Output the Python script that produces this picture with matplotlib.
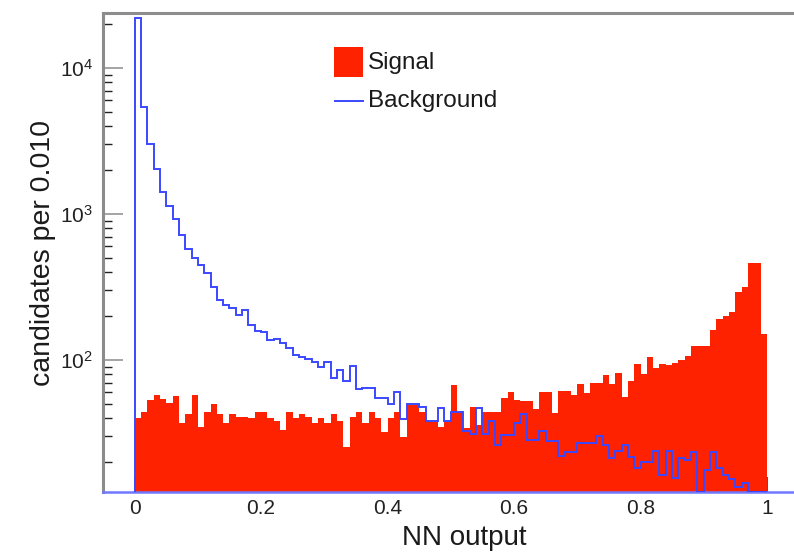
import numpy as np
import matplotlib
matplotlib.use("Agg")
import matplotlib.pyplot as plt
from matplotlib.patches import Rectangle
from matplotlib.lines import Line2D
from matplotlib.ticker import MultipleLocator, FixedLocator, LogLocator, FuncFormatter

plt.rcParams['font.family'] = ['Liberation Sans', 'DejaVu Sans']

# NN output histograms, 100 bins of width 0.010 on [0, 1]
bin_edges = np.linspace(0.0, 1.0, 101)

signal = [
    40, 44, 53, 58, 54, 51, 57, 37, 43, 58,
    35, 44, 50, 43, 37, 43, 41, 41, 40, 44,
    44, 40, 38, 33, 44, 40, 43, 41, 37, 40,
    37, 43, 38, 25.5, 41, 44, 37, 44, 40, 32,
    40, 44, 29.5, 49, 49, 44, 38, 38, 34.5, 37.5,
    67, 44, 34, 48, 36, 44, 44, 44, 55, 60,
    53.5, 52, 52, 46.5, 60, 60, 43.5, 61.5, 61.5, 58,
    69, 59, 70, 70, 79, 68, 82, 56, 72, 94,
    80, 105, 88, 94, 93, 96, 100, 107, 125, 125,
    125, 161, 190, 200, 213, 292, 318, 460, 460, 150,
]

background = [
    21900, 5430, 3010, 2020, 1415, 1135, 925, 715, 573, 497,
    448, 393, 315, 257, 238, 228, 203, 220, 174, 159,
    155, 137, 139, 130, 120, 108, 105, 101, 97, 89,
    97, 75, 85, 72, 91, 63, 64, 64, 55, 55,
    50, 60, 39.5, 50, 50, 48, 38.4, 38.4, 47, 38,
    44, 44, 32.5, 31, 47, 31, 38.5, 26, 30.5, 30.5,
    37, 43, 28.3, 28.3, 32.5, 27.8, 27.8, 22, 23.5, 23.5,
    27.2, 27.2, 27.2, 30.2, 26.2, 21.2, 23.9, 26.2, 21.8, 18.1,
    20.1, 20.1, 23.9, 16.3, 23.9, 15.5, 21.2, 20.5, 23.3, 0,
    17.7, 23.3, 18.1, 16.3, 15.2, 13.4, 14.3, 0, 0, 0,
]

x_ticks = [0, 0.2, 0.4, 0.6, 0.8, 1.0]

ymin, ymax = 12.47, 23810
red = '#ff2200'
blue = '#3a48ff'
frame = '#8c8c8c'

fig = plt.figure(figsize=(7.94, 5.53), dpi=100)
ax = fig.add_axes([103 / 794, 1 - 492 / 553, (798.6 - 103) / 794, (492 - 13) / 553])
ax.set_yscale('log')
ax.set_xlim(-0.05, 1.05)
ax.set_ylim(ymin, ymax)

# empty bins sit on the lower frame, like ROOT draws them
sig = np.clip(signal, ymin, None)
bkg = np.clip(background, ymin, None)

ax.stairs(sig, bin_edges, baseline=ymin, fill=True, color=red, lw=0, zorder=2)
ax.axhline(ymin, color='#6f78ff', lw=1.8, zorder=3, clip_on=False)
ax.stairs(bkg, bin_edges, baseline=ymin, color=blue, lw=1.4, zorder=4)

# frame
for side in ['left', 'top']:
    ax.spines[side].set_color(frame)
    ax.spines[side].set_linewidth(2.2)
ax.spines['bottom'].set_visible(False)
ax.spines['right'].set_visible(False)

ax.xaxis.set_major_locator(FixedLocator(x_ticks))
ax.xaxis.set_minor_locator(MultipleLocator(0.05))
ax.xaxis.set_major_formatter(FuncFormatter(lambda v, p: '%g' % v))
ax.yaxis.set_major_locator(LogLocator(base=10))
ax.yaxis.set_minor_locator(LogLocator(base=10, subs=np.arange(2, 10)))

ax.tick_params(axis='both', which='both', direction='in', top=False, right=False,
               labelsize=15, colors='#222222')
ax.tick_params(axis='x', which='major', length=10.8, width=1.1, pad=5)
ax.tick_params(axis='x', which='minor', length=5.8, width=1.0)
ax.tick_params(axis='y', which='major', length=14.4, width=1.1, pad=7, color=frame)
ax.tick_params(axis='y', which='minor', length=6.8, width=1.0)

ax.set_xlabel('NN output', fontsize=20, color='#1a1a1a')
ax.xaxis.set_label_coords(0.519, -0.068)
ax.set_ylabel('candidates per 0.010', fontsize=20.5, color='#1a1a1a')
ax.yaxis.set_label_coords(-0.067, 0.5)

# legend
fig.add_artist(Rectangle((334 / 794, 1 - 77 / 553), 29 / 794, 30 / 553,
                         transform=fig.transFigure, color=red, lw=0))
fig.add_artist(Line2D([335 / 794, 363 / 794], [1 - 101 / 553] * 2,
                      transform=fig.transFigure, color=blue, lw=1.4))
fig.text(368 / 794, 1 - 63 / 553, 'Signal', fontsize=17.5, va='center', ha='left',
         color='#1a1a1a')
fig.text(368 / 794, 1 - 101 / 553, 'Background', fontsize=17.5, va='center', ha='left',
         color='#1a1a1a')

fig.savefig('out.png', dpi=100)
